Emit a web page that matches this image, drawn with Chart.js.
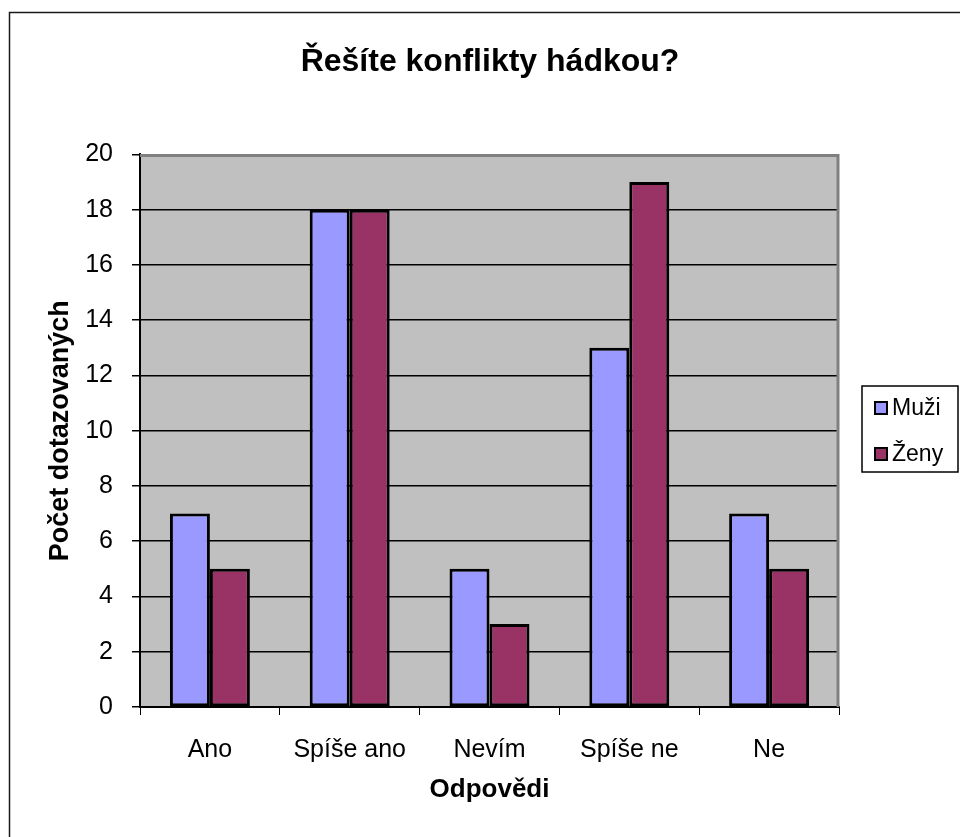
<!DOCTYPE html>
<html>
<head>
<meta charset="utf-8">
<script src="https://cdn.jsdelivr.net/npm/chart.js@4.4.1/dist/chart.umd.min.js"></script>
<style>
  html, body { margin: 0; padding: 0; background: #fff; }
  #wrap { width: 960px; height: 837px; position: relative; }
</style>
</head>
<body>
<div id="wrap"><canvas id="c" width="960" height="837"></canvas></div>
<script>
const categories = ["Ano", "Spíše ano", "Nevím", "Spíše ne", "Ne"];
const muzi = [7, 18, 5, 13, 7];
const zeny = [5, 18, 3, 19, 5];
const seriesNames = ["Muži", "Ženy"];
const chartTitle = "Řešíte konflikty hádkou?";
const xTitle = "Odpovědi";
const yTitle = "Počet dotazovaných";

const FONT = "'Liberation Sans', Arial, sans-serif";

const decor = {
  id: 'decor',
  beforeDraw(chart) {
    const { ctx, chartArea: a } = chart;
    ctx.save();
    ctx.fillStyle = '#ffffff';
    ctx.fillRect(0, 0, chart.width, chart.height);
    ctx.strokeStyle = '#1a1a1a';
    ctx.lineWidth = 1.5;
    ctx.beginPath();
    ctx.moveTo(9.5, chart.height + 5);
    ctx.lineTo(9.5, 12.5);
    ctx.lineTo(chart.width + 5, 12.5);
    ctx.stroke();
    ctx.fillStyle = '#C0C0C0';
    ctx.fillRect(a.left, a.top, a.right - a.left, a.bottom - a.top);
    ctx.restore();
  },
  beforeDatasetsDraw(chart) {
    const { ctx, chartArea: a } = chart;
    ctx.save();
    ctx.strokeStyle = '#808080';
    ctx.lineWidth = 3;
    ctx.beginPath();
    ctx.moveTo(a.left, a.top + 1);
    ctx.lineTo(a.right - 1, a.top + 1);
    ctx.lineTo(a.right - 1, a.bottom);
    ctx.stroke();
    ctx.restore();
  },
  afterDraw(chart) {
    const { ctx } = chart;
    ctx.save();
    ctx.strokeStyle = '#000';
    ctx.lineWidth = 1.5;
    ctx.strokeRect(862, 386, 96, 86);
    const ys = [408, 454];
    chart.data.datasets.forEach((ds, i) => {
      ctx.fillStyle = ds.backgroundColor;
      ctx.fillRect(875, ys[i] - 6, 12, 12);
      ctx.strokeStyle = '#000';
      ctx.lineWidth = 2;
      ctx.strokeRect(875, ys[i] - 6, 12, 12);
      ctx.fillStyle = '#000';
      ctx.font = "23px " + FONT;
      ctx.textBaseline = 'middle';
      ctx.textAlign = 'left';
      ctx.fillText(ds.label, 892, ys[i] + 1);
    });
    ctx.restore();
  }
};

new Chart(document.getElementById('c'), {
  type: 'bar',
  data: {
    labels: categories,
    datasets: [
      { label: seriesNames[0], data: muzi, backgroundColor: '#9999FF', borderColor: '#000', borderWidth: 3, borderSkipped: false },
      { label: seriesNames[1], data: zeny, backgroundColor: '#993366', borderColor: '#000', borderWidth: 3, borderSkipped: false }
    ]
  },
  options: {
    responsive: false,
    animation: false,
    devicePixelRatio: 1,
    layout: { padding: { left: 20, right: 0, top: 0, bottom: 0 } },
    datasets: { bar: { categoryPercentage: 0.572, barPercentage: 1 } },
    plugins: {
      legend: { display: false },
      tooltip: { enabled: false },
      title: {
        display: true,
        text: chartTitle,
        color: '#000',
        font: { family: FONT, size: 32, weight: 'bold' },
        padding: { top: 43, bottom: 73 }
      }
    },
    scales: {
      x: {
        afterFit(scale) { scale.height = 130; },
        grid: { offset: true, drawOnChartArea: false, drawTicks: true, tickLength: 8, color: '#000', lineWidth: 1 },
        border: { color: '#000', width: 2 },
        ticks: { color: '#000', font: { family: FONT, size: 25 }, padding: 20 },
        title: { display: true, text: xTitle, color: '#000', font: { family: FONT, size: 26, weight: 'bold' }, padding: { top: 0, bottom: 32 } }
      },
      y: {
        afterFit(scale) { scale.width = 120; },
        min: 0, max: 20,
        ticks: { stepSize: 2, color: '#000', font: { family: FONT, size: 25 }, padding: 19 },
        grid: { color: '#000', lineWidth: 1.5, tickLength: 8, drawTicks: true },
        border: { color: '#000', width: 2 },
        title: { display: true, text: yTitle, color: '#000', font: { family: FONT, size: 27, weight: 'bold' }, padding: { top: 24, bottom: 0 } }
      },
      legendSpace: {
        type: 'linear',
        position: 'right',
        display: true,
        afterFit(scale) { scale.width = 121; },
        grid: { display: false, drawTicks: false },
        border: { display: false },
        ticks: { display: false }
      }
    }
  },
  plugins: [decor]
});
</script>
</body>
</html>
